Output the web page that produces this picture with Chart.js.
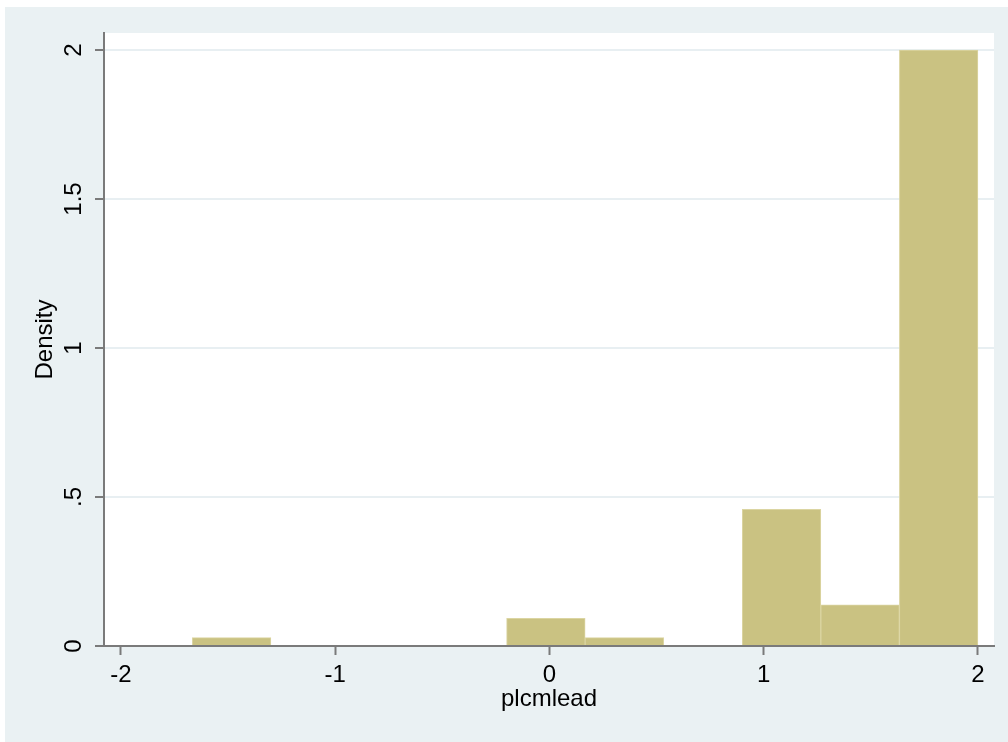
<!DOCTYPE html>
<html>
<head>
<meta charset="utf-8">
<script src="https://cdn.jsdelivr.net/npm/chart.js@4"></script>
<style>
  html, body { margin: 0; padding: 0; background: #ffffff; }
  #hist { display: block; }
</style>
</head>
<body>
<canvas id="hist" width="1008" height="742"></canvas>
<script>
// histogram of plcmlead, 10 bins from -5/3 to 2
var binStarts = [-1.6667, -1.3, -0.9333, -0.5667, -0.2, 0.1667, 0.5333, 0.9, 1.2667, 1.6333];
var binWidth = 0.3667;
var density = [0.028, 0, 0, 0, 0.093, 0.028, 0, 0.459, 0.138, 2.0];

var xTicks = [-2, -1, 0, 1, 2];
var yTicks = [0, 0.5, 1, 1.5, 2];
var yTickLabels = ['0', '.5', '1', '1.5', '2'];

var outerBg = '#eaf1f3';
var axisGray = '#7a7a7a';
var gridColor = '#e8eff2';
var barFill = '#cac282';
var barEdge = '#dbd5a2';

var points = [];
for (var i = 0; i < binStarts.length; i++) {
    points.push({ x: binStarts[i] + binWidth / 2, y: density[i] });
}

// stata-like backgrounds: light outer region, white plot region
var backdrop = {
    id: 'backdrop',
    beforeDraw: function(chart) {
        var ctx = chart.ctx;
        var a = chart.chartArea;
        ctx.save();
        ctx.fillStyle = '#ffffff';
        ctx.fillRect(0, 0, chart.width, chart.height);
        ctx.fillStyle = outerBg;
        ctx.fillRect(5, 7, chart.width - 5, chart.height - 7);
        ctx.fillStyle = '#ffffff';
        ctx.fillRect(a.left, a.top, a.right - a.left, a.bottom - a.top);
        ctx.restore();
    }
};

var font = { family: "'Liberation Sans', Arial, Helvetica, sans-serif", size: 24 };

new Chart(document.getElementById('hist'), {
    type: 'bar',
    plugins: [backdrop],
    data: {
        datasets: [{
            data: points,
            backgroundColor: barFill,
            borderColor: barEdge,
            borderWidth: 1,
            borderSkipped: 'bottom',
            barPercentage: 1,
            categoryPercentage: 1
        }]
    },
    options: {
        responsive: false,
        animation: false,
        layout: { padding: { top: 33, right: 14, left: 0, bottom: 0 } },
        plugins: { legend: { display: false }, tooltip: { enabled: false } },
        scales: {
            x: {
                type: 'linear',
                offset: false,
                min: -2.079,
                max: 2.075,
                afterFit: function(s) { s.height = 96; },
                afterBuildTicks: function(s) {
                    s.ticks = xTicks.map(function(v) { return { value: v }; });
                },
                border: { color: axisGray, width: 2 },
                grid: { offset: false, drawOnChartArea: false, drawTicks: true, tickLength: 9,
                    tickColor: axisGray, tickWidth: 2 },
                ticks: { color: '#000000', font: font, padding: 6, maxRotation: 0,
                    callback: function(v) { return String(v); } },
                title: { display: true, text: 'plcmlead', color: '#000000', font: font,
                    padding: { top: 0, bottom: 28 } }
            },
            y: {
                type: 'linear',
                min: 0,
                max: 2.057,
                afterFit: function(s) { s.width = 104; },
                afterBuildTicks: function(s) {
                    s.ticks = yTicks.map(function(v) { return { value: v }; });
                },
                border: { color: axisGray, width: 2 },
                grid: {
                    color: function(c) { return c.tick && c.tick.value === 0 ? 'rgba(0,0,0,0)' : gridColor; },
                    lineWidth: 2, tickLength: 9, tickColor: axisGray, tickWidth: 2
                },
                ticks: {
                    color: '#000000', font: font, padding: 4,
                    minRotation: 90, maxRotation: 90, crossAlign: 'center',
                    callback: function(v) {
                        var k = yTicks.indexOf(v);
                        return k >= 0 ? yTickLabels[k] : '';
                    }
                },
                title: { display: true, text: 'Density', color: '#000000', font: font,
                    padding: { top: 31, bottom: 0 } }
            }
        }
    }
});
</script>
</body>
</html>
